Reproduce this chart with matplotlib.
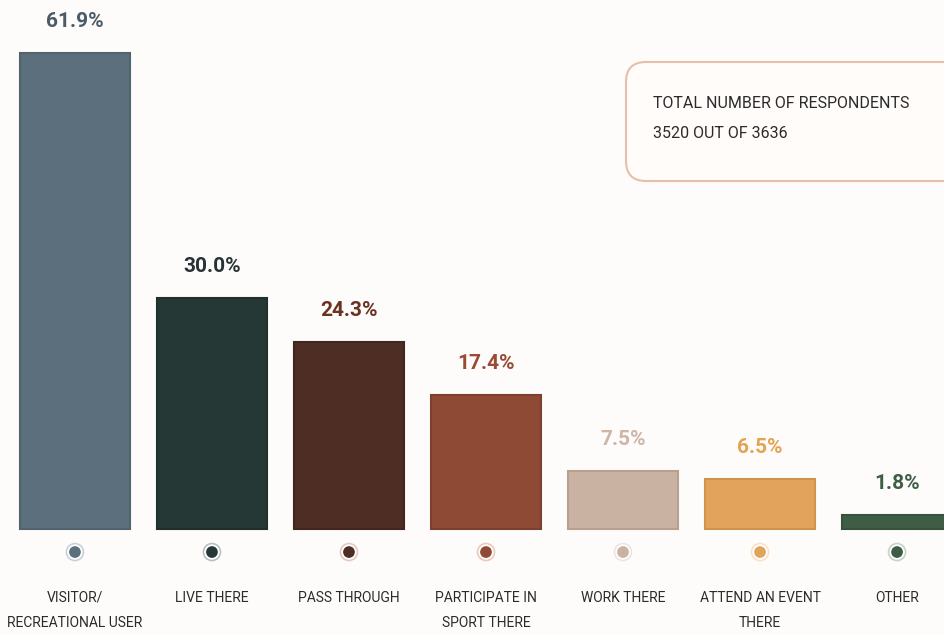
import matplotlib.pyplot as plt
from matplotlib.patches import FancyBboxPatch

categories = ["VISITOR/\nRECREATIONAL USER", "LIVE THERE", "PASS THROUGH",
              "PARTICIPATE IN\nSPORT THERE", "WORK THERE", "ATTEND AN EVENT\nTHERE", "OTHER"]
shares = [61.9, 30.0, 24.3, 17.4, 7.5, 6.5, 1.8]
bar_colors = ["#5b6f7d", "#253836", "#4e2d24", "#8f4a36", "#c9b2a2", "#e2a45c", "#3f5c45"]
edge_colors = ["#50636f", "#1e2f2d", "#43261e", "#7d402e", "#b7a090", "#cf9450", "#36513c"]
value_colors = ["#4b5b67", "#283434", "#6a3222", "#9a4b35", "#cdb6a6", "#e2a453", "#3e5e46"]
ring_colors = ["#c9d1d8", "#b9c1c0", "#e6c9bd", "#ecc9ba", "#efe5de", "#f8e2c6", "#c6d3c8"]

label_font = "Roboto"

bg = "#fdfcfb"
fig = plt.figure(figsize=(9.45, 6.35), dpi=100, facecolor=bg)
ax = fig.add_axes([0, 0, 1, 1])
ax.set_facecolor(bg)
ax.axis("off")

x = list(range(len(shares)))
ax.bar(x, shares, width=0.803, color=bar_colors, edgecolor=edge_colors, linewidth=1.5)
ax.set_xlim(-0.547, 6.35)
ax.set_ylim(-13.78, 68.8)

for i, v in enumerate(shares):
    ax.annotate(f"{v:.1f}%", (i, v), xytext=(0, 23), textcoords="offset points",
                ha="center", va="center", fontsize=15, fontweight="bold",
                family="Roboto", color=value_colors[i])
    ax.annotate(categories[i], (i, 0), xytext=(0, -44.5), textcoords="offset points",
                ha="center", va="top", fontsize=10, family=label_font, color="#2b2b2b",
                linespacing=2.05)

# dots: pale ring with coloured centre, 23 px below the baseline
dot_y = [-23 / 7.69] * len(shares)
ax.scatter(x, dot_y, s=150, color="white", edgecolor=ring_colors, linewidth=1.2, zorder=3, clip_on=False)
ax.scatter(x, dot_y, s=55, color=bar_colors, zorder=4, clip_on=False)

box = FancyBboxPatch((6.26, 4.54), 4.0, 1.19, boxstyle="round,pad=0,rounding_size=0.2",
                     transform=fig.dpi_scale_trans, facecolor="#fffcfa",
                     edgecolor="#e6bfa8", linewidth=1.5, clip_on=False)
fig.patches.append(box)
fig.text(653 / 945, 1 - 103 / 635, "TOTAL NUMBER OF RESPONDENTS", fontsize=11.5,
         family=label_font, color="#2b2b2b", ha="left", va="center")
fig.text(653 / 945, 1 - 134 / 635, "3520 OUT OF 3636", fontsize=11.5,
         family=label_font, color="#2b2b2b", ha="left", va="center")

fig.savefig("out.png", dpi=100, facecolor=bg)
